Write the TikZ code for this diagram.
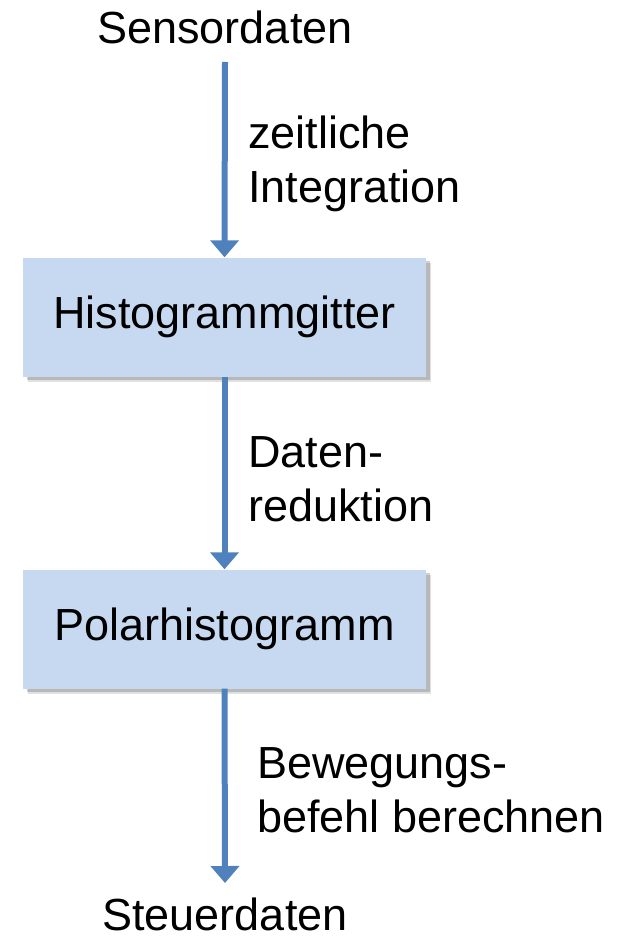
\documentclass[tikz,border=0pt]{standalone}
\usepackage{fontspec}
\setmainfont{Liberation Sans}
\usetikzlibrary{arrows.meta,shadows}
\definecolor{boxfill}{HTML}{C6D9F1}
\definecolor{arrowblue}{HTML}{4F81BD}
\begin{document}
\begin{tikzpicture}[x=1pt,y=-1pt,
  txt/.style={font=\fontsize{45}{54}\selectfont, inner sep=0pt},
  lbl/.style={txt, align=left, anchor=west},
  procbox/.style={fill=boxfill, minimum width=403pt, minimum height=119pt, inner sep=0pt,
     font=\fontsize{45}{54}\selectfont,
     general shadow={fill=black, opacity=0.12, shadow xshift=5pt, shadow yshift=-5pt},
     general shadow={fill=black, opacity=0.18, shadow xshift=3.5pt, shadow yshift=-3.5pt}},
  flow/.style={draw=arrowblue, line width=6pt, -{Triangle[width=28pt,length=17pt]}}]
\useasboundingbox (0,0) rectangle (621,941);
\node[txt, anchor=base] (src) at (225,44) {Sensordaten};
\node[procbox] (h) at (224.5,317) {Histogrammgitter};
\node[procbox] (p) at (224.5,629) {Polarhistogramm};
\node[txt, anchor=base] (dst) at (225,930) {Steuerdaten};
\coordinate (s0) at (225,62);
\coordinate (d0) at (225,883);
\draw[flow] (s0) -- (h.north);
\draw[flow] (h.south) -- (p.north);
\draw[flow] (p.south) -- (d0);
\node[lbl] (l1) at (248,164) {zeitliche\\Integration};
\node[lbl] (l2) at (248,479) {Daten-\\reduktion};
\node[lbl] (l3) at (257,790) {Bewegungs-\\befehl berechnen};
\end{tikzpicture}
\end{document}
